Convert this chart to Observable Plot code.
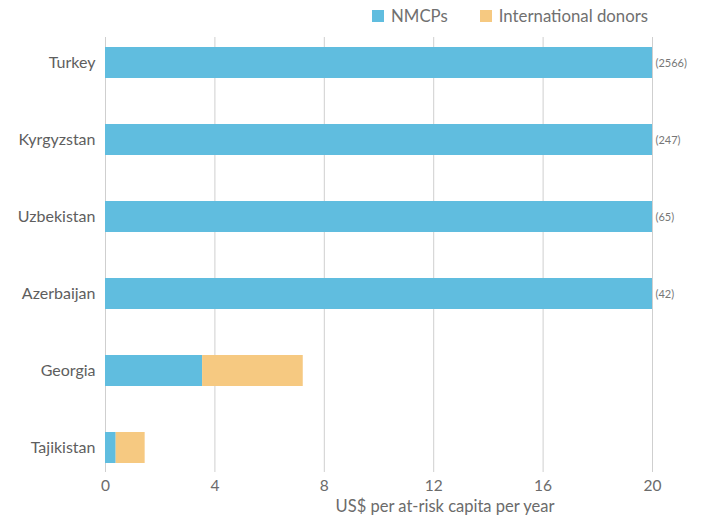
<!DOCTYPE html>
<html>
<head>
<meta charset="utf-8">
<script src="https://cdn.jsdelivr.net/npm/d3@7"></script>
<script src="https://cdn.jsdelivr.net/npm/@observablehq/plot@0.6"></script>
<style>
  html, body { margin: 0; padding: 0; background: #fff; }
  #wrap { position: relative; width: 703px; height: 521px; font-family: Lato, "Open Sans", sans-serif; }
  #legend { position: absolute; top: 5px; left: 372px; display: flex; align-items: center; font-size: 16.8px; color: #707070; white-space: nowrap; }
  .sw { display: inline-block; width: 12px; height: 12px; margin-right: 7px; }
  .item { display: flex; align-items: center; margin-right: 32px; }
</style>
</head>
<body>
<div id="wrap">
  <div id="legend"></div>
  <div id="chart"></div>
</div>
<script>
const countries = ["Turkey", "Kyrgyzstan", "Uzbekistan", "Azerbaijan", "Georgia", "Tajikistan"];
const nmcpValues = [20, 20, 20, 20, 3.55, 0.39];
const donorValues = [0, 0, 0, 0, 3.68, 1.06];
const capLabels = ["(2566)", "(247)", "(65)", "(42)", "", ""];
const seriesNames = ["NMCPs", "International donors"];
const seriesColors = ["#60bddf", "#f6c981"];
const xTicks = [0, 4, 8, 12, 16, 20];
const xLabel = "US$ per at-risk capita per year";

const rows = [];
countries.forEach((c, i) => {
  rows.push({country: c, source: seriesNames[0], value: nmcpValues[i]});
  rows.push({country: c, source: seriesNames[1], value: donorValues[i]});
});
const labelRows = countries.map((c, i) => ({country: c, label: capLabels[i], value: nmcpValues[i] + donorValues[i]})).filter(d => d.label);

const chart = Plot.plot({
  width: 703,
  height: 521,
  marginLeft: 105,
  marginRight: 51,
  marginTop: 37,
  marginBottom: 49,
  style: {fontFamily: "Lato, 'Open Sans', sans-serif", background: "transparent"},
  x: {domain: [0, 20]},
  y: {domain: countries, paddingInner: 0.6, paddingOuter: 0.12},
  color: {domain: seriesNames, range: seriesColors},
  marks: [
    Plot.gridX(xTicks, {stroke: "#cfcfcf", strokeOpacity: 1, strokeWidth: 1}),
    Plot.barX(rows, {y: "country", x: "value", fill: "source", order: seriesNames}),
    Plot.text(labelRows, {y: "country", x: "value", text: "label", textAnchor: "start", dx: 3, fontSize: 11, fill: "#777"}),
    Plot.axisX({ticks: xTicks, tickSize: 0, tickPadding: 7, fontSize: 15.5, fill: "#6b6b6b", label: null}),
    Plot.axisY({tickSize: 0, tickPadding: 10, fontSize: 16, fill: "#5e5e5e", label: null}),
    Plot.text([xLabel], {frameAnchor: "bottom", dy: 39, dx: 66, fontSize: 16.5, fill: "#6b6b6b"})
  ]
});
document.getElementById("chart").appendChild(chart);

const legend = document.getElementById("legend");
seriesNames.forEach((name, i) => {
  const item = document.createElement("span");
  item.className = "item";
  const sw = document.createElement("span");
  sw.className = "sw";
  sw.style.background = seriesColors[i];
  item.appendChild(sw);
  item.appendChild(document.createTextNode(name));
  legend.appendChild(item);
});
</script>
</body>
</html>
